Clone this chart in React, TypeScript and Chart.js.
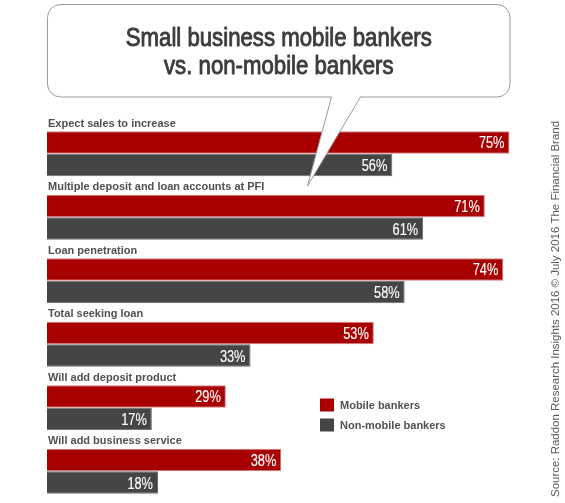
import React, { useEffect, useRef } from 'react';
import { Chart, registerables } from 'chart.js';

Chart.register(...registerables);

// data
const categories = [
  'Expect sales to increase',
  'Multiple deposit and loan accounts at PFI',
  'Loan penetration',
  'Total seeking loan',
  'Will add deposit product',
  'Will add business service'
];
const mobileBankers = [75, 71, 74, 53, 29, 38];
const nonMobileBankers = [56, 61, 58, 33, 17, 18];
const seriesNames = ['Mobile bankers', 'Non-mobile bankers'];
const seriesColors = ['#a80000', '#454545'];
const seriesBorders = ['#d78080', '#6a6a6a'];
const titleLines = ['Small business mobile bankers', 'vs. non-mobile bankers'];
const sourceNote = 'Source: Raddon Research Insights 2016 \u00a9 July 2016 The Financial Brand';

const FONT = '"Liberation Sans", Arial, sans-serif';

// squeezed text, the original uses a condensed face; a thin stroke gives a medium weight
function narrowText(ctx: CanvasRenderingContext2D, text: string, x: number, y: number, squeeze: number, weight = 0) {
  ctx.save();
  ctx.translate(x, y);
  ctx.scale(squeeze, 1);
  ctx.fillText(text, 0, 0);
  if (weight > 0) {
    ctx.strokeStyle = ctx.fillStyle;
    ctx.lineWidth = weight;
    ctx.lineJoin = 'round';
    ctx.strokeText(text, 0, 0);
  }
  ctx.restore();
}

const decorPlugin = {
  id: 'decor',
  afterDatasetsDraw(chart: Chart) {
    const ctx = chart.ctx;
    const redMeta = chart.getDatasetMeta(0);

    // value labels inside bar ends
    ctx.save();
    ctx.fillStyle = '#ffffff';
    ctx.font = `16px ${FONT}`;
    ctx.textAlign = 'right';
    ctx.textBaseline = 'alphabetic';
    chart.data.datasets.forEach((ds, di) => {
      chart.getDatasetMeta(di).data.forEach((el: any, i) => {
        narrowText(ctx, `${ds.data[i]}%`, el.x - 5, el.y + 6, 0.8, 0.15);
      });
    });
    ctx.restore();

    // category labels above each pair of bars
    ctx.save();
    ctx.fillStyle = '#505050';
    ctx.font = `bold 11px ${FONT}`;
    ctx.textAlign = 'left';
    ctx.textBaseline = 'alphabetic';
    (chart.data.labels as string[]).forEach((label, i) => {
      const el: any = redMeta.data[i];
      const top = el.y - el.height / 2;
      ctx.fillText(label, chart.chartArea.left + 1, top - 4.5);
    });
    ctx.restore();

    // speech bubble with title
    ctx.save();
    const bx = 47.5, by = 4.5, bw = 462.5, bh = 92.5, r = 13;
    ctx.beginPath();
    ctx.roundRect(bx, by, bw, bh, r);
    ctx.fillStyle = '#ffffff';
    ctx.fill();
    ctx.strokeStyle = '#9a9a9a';
    ctx.lineWidth = 1;
    ctx.stroke();
    // tail
    ctx.beginPath();
    ctx.moveTo(331.5, by + bh - 1);
    ctx.lineTo(307.5, 186);
    ctx.lineTo(360.5, by + bh - 1);
    ctx.closePath();
    ctx.fill();
    ctx.beginPath();
    ctx.moveTo(331.5, by + bh);
    ctx.lineTo(307.5, 186);
    ctx.lineTo(360.5, by + bh);
    ctx.stroke();

    ctx.fillStyle = '#3c3c3c';
    ctx.font = `25px ${FONT}`;
    ctx.textAlign = 'center';
    ctx.textBaseline = 'alphabetic';
    const squeeze = 306 / ctx.measureText(titleLines[0]).width;
    narrowText(ctx, titleLines[0], bx + bw / 2, 46, squeeze, 0.9);
    narrowText(ctx, titleLines[1], bx + bw / 2, 74, squeeze, 0.9);
    ctx.restore();

    // legend
    ctx.save();
    ctx.font = `bold 11px ${FONT}`;
    ctx.textAlign = 'left';
    ctx.textBaseline = 'middle';
    seriesNames.forEach((name, i) => {
      const y = 398.5 + i * 20;
      ctx.fillStyle = seriesColors[i];
      ctx.fillRect(320, y, 14, 13);
      ctx.fillStyle = '#505050';
      ctx.fillText(name, 340, y + 7);
    });
    ctx.restore();

    // rotated source note
    ctx.save();
    ctx.translate(559, 497);
    ctx.rotate(-Math.PI / 2);
    ctx.fillStyle = '#5a5a5a';
    ctx.font = `11px ${FONT}`;
    ctx.textAlign = 'left';
    ctx.textBaseline = 'alphabetic';
    const stretch = 376 / ctx.measureText(sourceNote).width;
    ctx.scale(stretch, 1);
    ctx.fillText(sourceNote, 0, 0);
    ctx.restore();
  }
};

const SmallBusinessChart: React.FC = () => {
  const canvasRef = useRef<HTMLCanvasElement | null>(null);

  useEffect(() => {
    if (!canvasRef.current) return;
    const chart = new Chart(canvasRef.current, {
      type: 'bar',
      data: {
        labels: categories,
        datasets: [
          {
            label: seriesNames[0],
            data: mobileBankers,
            backgroundColor: seriesColors[0],
            borderColor: seriesBorders[0],
            borderWidth: 1
          },
          {
            label: seriesNames[1],
            data: nonMobileBankers,
            backgroundColor: seriesColors[1],
            borderColor: seriesBorders[1],
            borderWidth: 1
          }
        ]
      },
      options: {
        indexAxis: 'y',
        responsive: true,
        maintainAspectRatio: false,
        animation: false,
        layout: { padding: { left: 47, top: 122, right: 0, bottom: 0 } },
        datasets: {
          bar: { categoryPercentage: 0.709, barPercentage: 1 }
        },
        scales: {
          x: { display: false, min: 0, max: 84 },
          y: { display: false }
        },
        plugins: {
          legend: { display: false },
          tooltip: { enabled: false }
        }
      },
      plugins: [decorPlugin]
    });
    return () => chart.destroy();
  }, []);

  return (
    <div style={{ position: 'fixed', left: 0, top: 0, width: 565, height: 503, background: '#fff' }}>
      <canvas ref={canvasRef} />
    </div>
  );
};

export default function App() {
  return <SmallBusinessChart />;
}
